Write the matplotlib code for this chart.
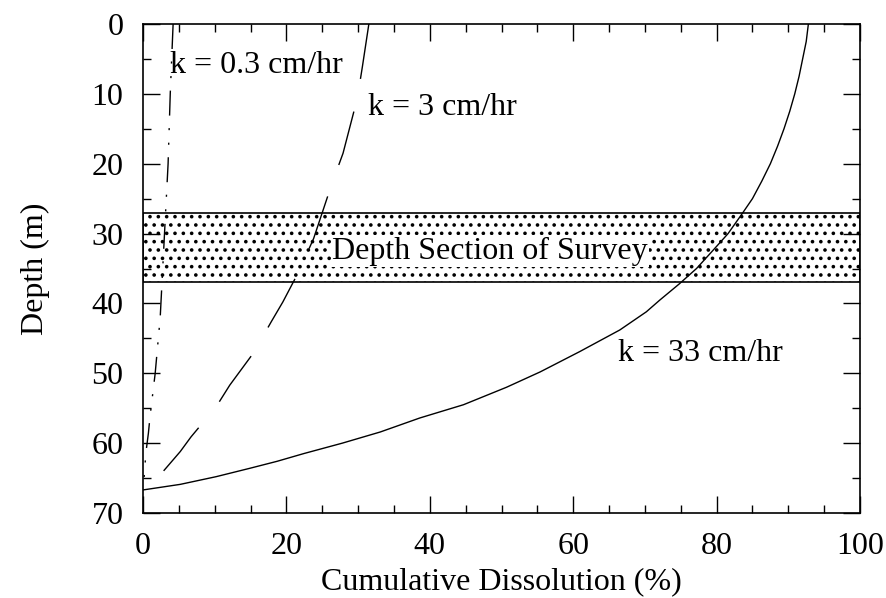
import numpy as np
import matplotlib
matplotlib.use("Agg")
import matplotlib.pyplot as plt
from matplotlib.ticker import MultipleLocator

plt.rcParams['font.family'] = ['Liberation Serif', 'DejaVu Serif']
plt.rcParams['hatch.linewidth'] = 1.4

# k = 0.3 cm/hr curve
depth_k03 = [0, 10, 20, 26, 30, 40, 42, 50, 56, 58.6, 61.4, 64.3, 66.7]
diss_k03 = [4.2, 3.8, 3.5, 3.2, 3.0, 2.5, 2.4, 1.7, 1.0, 0.75, 0.4, 0.2, 0.0]

# k = 3 cm/hr curve
depth_k3 = [0, 6.1, 10.6, 18.5, 23, 30.7, 35.5, 39.8, 42.6, 47.1, 51.7, 54.8, 59.1, 61.2, 64.3, 66.7]
diss_k3 = [31.5, 30.6, 29.9, 27.9, 26.3, 23.8, 21.7, 19.5, 17.9, 15.4, 12.1, 10.2, 6.7, 5.2, 2.6, 0.0]

# k = 33 cm/hr curve
depth_k33 = [0, 2.5, 5, 7.5, 10, 12.5, 15, 17.5, 20, 22.5, 25, 27.1, 30, 32.4, 35, 37.2,
             39.5, 41.2, 43.8, 46.9, 49.8, 52.0, 54.5, 56.4, 58.4, 60.0, 61.5, 62.6,
             63.6, 64.8, 65.9, 66.7]
diss_k33 = [92.8, 92.5, 92.0, 91.5, 90.9, 90.2, 89.4, 88.5, 87.5, 86.3, 85.0, 83.6, 81.6,
            79.5, 77.2, 74.8, 72.1, 70.2, 66.5, 60.9, 55.4, 50.7, 44.7, 38.6, 33.1, 27.8,
            22.4, 18.7, 14.9, 10.2, 5.2, 0.0]

survey_band = (27, 37)
x_ticks = [0, 20, 40, 60, 80, 100]
y_ticks = [0, 10, 20, 30, 40, 50, 60, 70]

fig = plt.figure(figsize=(8.86, 5.98), dpi=100)
ax = fig.add_axes([143/886, 1 - 513/598, (860-143)/886, (513-24)/598])

ax.set_xlim(0, 100)
ax.set_ylim(70, 0)

ax.fill_between([0, 100], survey_band[0], survey_band[1], facecolor='white',
                edgecolor='black', hatch='..', linewidth=1.2, zorder=1)

ax.plot(diss_k03, depth_k03, color='black', lw=1.0,
        dashes=(18, 9, 1.5, 9, 1.5, 9), zorder=3)
ax.plot(diss_k3, depth_k3, color='black', lw=1.0, dashes=(40, 24), zorder=3)
ax.plot(diss_k33, depth_k33, color='black', lw=1.0, zorder=3)

fs = 23
ax.text(3.7, 6.0, 'k = 0.3 cm/hr', fontsize=fs, ha='left', va='center', zorder=4)
ax.text(31.4, 12.0, 'k = 3 cm/hr', fontsize=fs, ha='left', va='center', zorder=4)
ax.text(66.3, 47.1, 'k = 33 cm/hr', fontsize=fs, ha='left', va='center', zorder=4)
ax.text(48.4, 32.5, 'Depth Section of Survey', fontsize=fs, ha='center', va='center',
        zorder=4, bbox=dict(facecolor='white', edgecolor='none', pad=1))

ax.set_xticks(x_ticks)
ax.set_yticks(y_ticks)
ax.xaxis.set_minor_locator(MultipleLocator(5))
ax.yaxis.set_minor_locator(MultipleLocator(5))
ax.tick_params(which='both', direction='in', top=True, right=True, width=1.0,
               labelsize=fs, pad=14)
ax.tick_params(which='major', length=12)
ax.tick_params(which='minor', length=6)
for s in ax.spines.values():
    s.set_linewidth(1.2)

ax.set_xlabel('Cumulative Dissolution (%)', fontsize=fs, labelpad=4)
ax.set_ylabel('Depth (m)', fontsize=fs, labelpad=30)

fig.savefig('out.png', dpi=100)
